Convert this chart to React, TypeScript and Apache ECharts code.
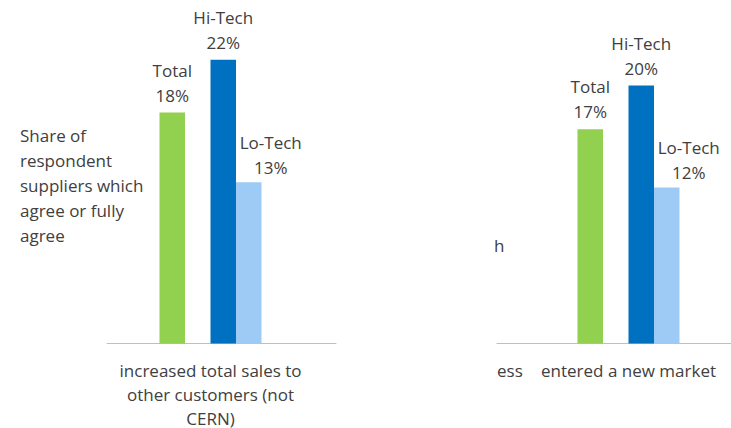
import React, { useEffect, useRef } from "react";
import * as echarts from "echarts";

const leftCategories = ["increased total sales to\nother customers (not\nCERN)"];
const rightCategories = ["entered a new market"];
const seriesNames = ["Total", "Hi-Tech", "Lo-Tech"];
// values per panel: [left panel, right panel]
const totalValues = [17.9, 16.6];
const hiTechValues = [22.0, 20.0];
const loTechValues = [12.5, 12.1];
const yAxisTitle = "Share of\nrespondent\nsuppliers which\nagree or fully\nagree";
const clippedYTitle = "h";
const clippedCategory = "ess";

const COLORS = ["#92D050", "#0070C0", "#9DCBF5"];
const FONT = "Open Sans";
const FS = 17;
const TEXT = "#404040";
const AXIS = "#BFBFBF";

export default function App() {
  const ref = useRef<HTMLDivElement>(null);
  useEffect(() => {
    if (!ref.current) return;
    const chart = echarts.init(ref.current, undefined, { renderer: "svg" });
    const labelBase = {
      show: true,
      position: "top",
      distance: 5,
      fontFamily: FONT,
      fontSize: FS,
      lineHeight: 25,
      color: TEXT,
      formatter: (p: any) => `${p.seriesName}\n${Math.round(p.value)}%`,
    };
    const bar = (gi: number, name: string, data: any[], color?: string, label?: any) => ({
      name,
      type: "bar",
      xAxisIndex: gi,
      yAxisIndex: gi,
      barWidth: 25.5,
      barGap: "0%",
      itemStyle: color ? { color } : undefined,
      label: label || { show: false },
      data,
    });
    const makeSeries = (gi: number) => [
      bar(gi, seriesNames[0], [totalValues[gi]], COLORS[0], labelBase),
      bar(gi, "", ["-"]),
      bar(gi, seriesNames[1], [hiTechValues[gi]], COLORS[1], labelBase),
      bar(gi, seriesNames[2], [loTechValues[gi]], COLORS[2], { ...labelBase, offset: [22, 3] }),
    ];
    const xAxisBase = {
      type: "category",
      axisTick: { show: false },
      axisLine: { show: true, lineStyle: { color: AXIS, width: 1 } },
      axisLabel: {
        interval: 0,
        margin: 14.5,
        fontFamily: FONT,
        fontSize: FS,
        lineHeight: 24,
        color: TEXT,
      },
    };
    const yAxisBase = { type: "value", min: 0, max: 25, show: false, splitLine: { show: false } };
    const gridBase = { top: 21, bottom: 84.5, outerBoundsMode: "none", containLabel: false };
    chart.setOption({
      animation: false,
      backgroundColor: "#ffffff",
      grid: [
        { ...gridBase, left: 107, width: 207 },
        { ...gridBase, left: 497, width: 263 },
        { ...gridBase, left: 107, width: 229 },
      ],
      xAxis: [
        { ...xAxisBase, gridIndex: 0, data: leftCategories, axisLine: { show: false } },
        { ...xAxisBase, gridIndex: 1, data: rightCategories },
        { ...xAxisBase, gridIndex: 2, data: [""], axisLabel: { show: false } },
      ],
      yAxis: [
        { ...yAxisBase, gridIndex: 0 },
        { ...yAxisBase, gridIndex: 1 },
        { ...yAxisBase, gridIndex: 2 },
      ],
      series: [...makeSeries(0), ...makeSeries(1)],
      graphic: [
        {
          type: "text",
          left: 20,
          top: 122.5,
          style: {
            text: yAxisTitle,
            fontFamily: FONT,
            fontSize: FS,
            lineHeight: 25,
            fill: TEXT,
          },
        },
        {
          type: "text",
          left: 494,
          top: 232.5,
          style: { text: clippedYTitle, fontFamily: FONT, fontSize: FS, lineHeight: 25, fill: TEXT },
        },
        {
          type: "text",
          left: 497,
          top: 358,
          style: { text: clippedCategory, fontFamily: FONT, fontSize: FS, lineHeight: 24, fill: TEXT },
        },
      ],
    });
    return () => chart.dispose();
  }, []);
  return (
    <div
      ref={ref}
      style={{ position: "fixed", left: 0, top: 0, width: 731, height: 428, background: "#fff" }}
    />
  );
}
